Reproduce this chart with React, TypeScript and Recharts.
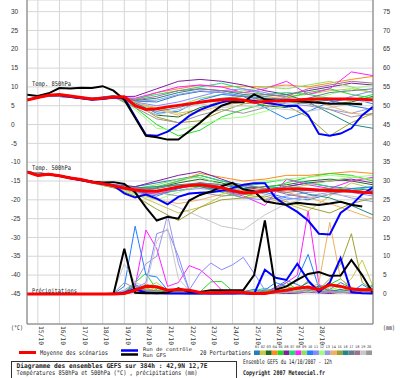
import React from "react"
import { LineChart, Line, XAxis, YAxis, CartesianGrid } from "recharts"

// time steps (hours after 14/10/2007 12h)
const hours12 = [0, 12, 24, 36, 48, 60, 72, 84, 96, 108, 120, 132, 144, 156, 168, 180, 192, 204, 216, 228, 240, 252, 264, 276, 288, 300, 312, 324, 336, 348, 360, 372, 384]
const hours24 = [0, 24, 48, 72, 96, 120, 144, 168, 192, 216, 240, 264, 288, 312, 336, 360, 384]
const dayTicks = [12, 36, 60, 84, 108, 132, 156, 180, 204, 228, 252, 276, 300, 324]
const dayLabels = ["15/10", "16/10", "17/10", "18/10", "19/10", "20/10", "21/10", "22/10", "23/10", "24/10", "25/10", "26/10", "27/10", "28/10"]
const tempTicks = [30, 25, 20, 15, 10, 5, 0, -5, -10, -15, -20, -25, -30, -35, -40, -45]
const precTicks = [75, 70, 65, 60, 55, 50, 45, 40, 35, 30, 25, 20, 15, 10, 5, 0]

// 850 hPa (°C)
const mean850 = [6.5, 7.2, 7.8, 8.0, 7.6, 7.2, 6.8, 7.0, 7.3, 7.4, 5.0, 4.0, 4.2, 4.7, 5.1, 5.5, 5.9, 6.3, 6.6, 6.7, 6.5, 5.9, 6.1, 6.3, 6.4, 6.5, 6.7, 6.8, 6.8, 6.8, 6.8, 6.7, 6.5]
const ctrl850 = [6.5, 7.2, 7.8, 7.8, 7.4, 7.0, 6.6, 6.8, 7.2, 7.0, 2.1, -2.8, -3.0, -1.9, 0.0, 2.3, 3.9, 5.0, 5.9, 6.5, 6.5, 6.3, 5.8, 5.4, 4.9, 4.9, 2.5, -2.5, -3.0, -2.4, -1.0, 2.5, 4.7]
const gfs850 = [7.9, 7.6, 8.3, 9.7, 9.6, 9.8, 9.7, 10.2, 9.0, 6.6, 1.8, -3.0, -3.4, -4.0, -4.0, -1.8, 0.5, 3.0, 5.0, 6.0, 5.9, 8.0, 6.7, 6.4, 6.3, 6.2, 6.0, 5.8, 5.5, 5.5, 5.5, 5.4]
const perts850 = [
  [6.5, 7.9, 7.5, 6.9, 7.6, 6.2, 6.0, 7.8, 8.8, 8.5, 7.6, 7.0, 6.8, 5.8, 6.5, 5.0, 4.0],
  [6.5, 7.6, 7.3, 6.6, 7.2, 5.8, 4.5, 3.0, 4.0, 6.5, 7.5, 8.0, 7.5, 8.0, 9.0, 9.5, 8.5],
  [6.5, 7.7, 7.2, 6.7, 7.4, 5.0, 2.5, 2.0, 4.5, 6.0, 6.5, 5.0, 4.5, 6.5, 5.5, 6.0, 7.5],
  [6.5, 7.8, 7.5, 6.8, 7.5, 6.5, 8.5, 9.5, 10.5, 10.0, 10.2, 10.0, 10.5, 10.0, 11.0, 12.0, 12.8],
  [6.5, 7.8, 7.6, 7.0, 7.6, 4.5, 0.0, -3.0, -1.5, 2.0, 4.0, 5.5, 7.0, 8.5, 9.5, 8.0, 7.0],
  [6.5, 7.9, 7.4, 6.8, 7.4, 7.5, 9.5, 11.5, 12.0, 11.5, 10.5, 9.0, 8.0, 9.0, 10.0, 11.0, 10.5],
  [6.5, 7.7, 7.3, 6.7, 7.2, 6.8, 8.0, 9.0, 10.0, 11.0, 9.5, 8.0, 8.5, 8.0, 7.0, 6.5, 8.0],
  [6.5, 7.8, 7.4, 6.8, 7.3, 7.0, 8.5, 10.0, 10.5, 10.0, 8.5, 9.5, 11.5, 8.0, 9.5, 14.0, 13.0],
  [6.5, 7.8, 7.5, 6.9, 7.5, 5.5, 4.0, 5.0, 7.0, 8.0, 9.0, 10.0, 9.5, 10.5, 11.5, 10.0, 8.5],
  [6.5, 7.9, 7.6, 7.0, 7.7, 5.8, 3.0, 3.5, 6.5, 8.0, 7.5, 4.5, 1.5, 3.5, 6.0, 7.0, 5.5],
  [6.5, 7.7, 7.3, 6.6, 7.1, 6.0, 5.0, 6.0, 7.5, 9.0, 9.5, 8.5, 7.0, 6.0, 5.5, 7.5, 9.0],
  [6.5, 7.8, 7.5, 6.9, 7.4, 4.0, -1.0, -1.5, 0.0, 1.5, 2.0, 3.5, 5.0, 6.5, 8.0, 9.5, 10.5],
  [6.5, 7.7, 7.3, 6.8, 7.2, 6.2, 6.5, 8.0, 9.0, 8.5, 7.5, 6.5, 5.5, 5.0, 4.0, 3.0, 4.5],
  [6.5, 7.8, 7.4, 6.8, 7.3, 6.0, 4.0, 2.5, 3.5, 5.0, 6.0, 7.0, 7.5, 6.5, 5.0, 3.0, 2.5],
  [6.5, 7.7, 7.4, 6.8, 7.3, 5.5, 2.0, 0.5, 1.0, 3.5, 5.5, 6.0, 5.0, 2.0, -3.0, 0.5, 3.0],
  [6.5, 7.8, 7.5, 6.9, 7.5, 6.4, 7.0, 8.5, 9.5, 9.0, 8.0, 7.5, 8.0, 6.0, 3.0, 0.0, -1.0],
  [6.5, 7.8, 7.4, 6.8, 7.3, 5.0, 3.5, 4.5, 6.0, 7.0, 7.5, 6.5, 6.0, 7.0, 8.5, 9.0, 9.5],
  [6.5, 7.7, 7.2, 6.6, 7.1, 6.5, 7.5, 9.0, 9.5, 9.0, 8.5, 8.0, 7.5, 9.5, 10.5, 11.5, 11.0],
  [6.5, 7.8, 7.4, 6.8, 7.2, 5.0, 2.5, 4.0, 5.5, 4.5, 5.0, 4.5, 4.0, 3.5, 4.5, 5.5, 6.5],
  [6.5, 7.8, 7.4, 6.8, 7.4, 4.5, 1.5, 0.5, 2.5, 4.0, 3.0, 4.5, 6.0, 5.5, 4.0, 2.0, 3.0],
]

// 500 hPa (°C)
const mean500 = [-12.6, -13.5, -13.2, -13.6, -14.2, -14.6, -15.3, -15.7, -16.3, -16.9, -17.4, -17.7, -17.7, -17.2, -16.6, -16.2, -16.0, -16.4, -16.8, -17.6, -18.1, -18.1, -17.6, -17.3, -17.1, -17.1, -17.2, -17.4, -17.5, -17.6, -17.7, -18.0, -18.1]
const ctrl500 = [-12.6, -13.4, -13.2, -13.6, -14.3, -14.8, -15.3, -15.8, -16.2, -18.3, -19.4, -18.6, -19.7, -21.2, -19.2, -18.3, -18.1, -18.0, -17.6, -16.9, -16.0, -15.6, -15.6, -19.5, -21.5, -23.2, -25.5, -29.0, -29.2, -23.5, -21.4, -18.5, -16.7]
const gfs500 = [-12.6, -13.5, -13.2, -13.6, -14.2, -14.7, -15.2, -15.4, -15.3, -15.8, -18.0, -22.0, -25.5, -24.5, -25.0, -20.2, -18.7, -17.8, -16.4, -15.5, -17.2, -17.8, -20.4, -20.9, -21.3, -20.8, -21.1, -21.4, -21.0, -20.5, -21.3, -21.8]
const perts500 = [
  [-12.6, -13.2, -14.0, -15.0, -16.0, -16.5, -15.5, -14.5, -13.5, -15.0, -16.0, -17.0, -16.5, -15.5, -16.5, -17.0, -17.5],
  [-12.6, -13.1, -14.2, -15.4, -16.5, -18.5, -21.0, -23.5, -22.0, -19.0, -18.5, -19.5, -21.0, -23.0, -19.0, -15.5, -17.0],
  [-12.6, -13.3, -14.3, -15.2, -16.4, -17.5, -16.8, -15.5, -14.5, -15.5, -17.0, -16.5, -16.0, -15.0, -14.5, -15.0, -16.0],
  [-12.6, -13.2, -14.1, -15.1, -16.2, -17.0, -17.0, -15.0, -13.0, -14.0, -15.0, -14.5, -13.5, -13.5, -13.0, -12.5, -13.0],
  [-12.6, -13.2, -14.3, -15.5, -16.8, -18.0, -18.5, -17.5, -16.5, -18.0, -19.5, -17.0, -15.5, -14.0, -13.0, -13.5, -15.0],
  [-12.6, -13.1, -14.0, -15.0, -16.0, -16.5, -15.0, -13.5, -12.5, -14.5, -16.5, -17.5, -16.5, -15.5, -15.0, -14.5, -15.5],
  [-12.6, -13.2, -14.2, -15.3, -16.2, -17.2, -16.5, -15.0, -13.5, -15.0, -16.5, -15.5, -14.5, -15.5, -16.5, -17.5, -16.5],
  [-12.6, -13.3, -14.2, -15.4, -16.6, -17.8, -18.5, -17.0, -16.0, -17.5, -19.0, -21.5, -14.5, -16.0, -17.0, -15.0, -14.0],
  [-12.6, -13.2, -14.1, -15.2, -16.3, -17.0, -16.0, -14.5, -14.0, -16.0, -17.5, -18.0, -17.0, -16.0, -15.0, -14.0, -14.5],
  [-12.6, -13.2, -14.3, -15.4, -16.5, -18.0, -19.0, -17.0, -15.5, -16.0, -17.0, -18.0, -19.5, -20.0, -18.5, -17.0, -16.5],
  [-12.6, -13.1, -14.1, -15.2, -16.4, -17.5, -18.0, -16.5, -16.0, -17.5, -19.5, -20.0, -19.0, -18.0, -17.5, -18.0, -19.0],
  [-12.6, -13.2, -14.2, -15.3, -16.5, -18.5, -20.0, -18.0, -16.0, -16.0, -16.0, -15.0, -14.5, -14.0, -13.5, -14.0, -13.5],
  [-12.6, -13.3, -14.2, -15.4, -16.3, -17.2, -17.8, -17.5, -17.0, -17.5, -17.0, -18.5, -20.0, -19.0, -18.0, -19.5, -20.5],
  [-12.6, -13.2, -14.2, -15.3, -16.4, -18.0, -20.0, -21.0, -20.0, -18.5, -17.5, -17.0, -18.0, -19.5, -21.0, -23.0, -25.0],
  [-12.6, -13.2, -14.3, -15.5, -16.8, -19.0, -22.5, -25.5, -22.0, -20.0, -19.5, -19.0, -20.5, -22.0, -23.5, -21.0, -19.5],
  [-12.6, -13.1, -14.0, -15.1, -16.1, -16.8, -16.5, -16.0, -16.5, -17.5, -18.5, -18.0, -17.0, -18.5, -19.5, -21.5, -24.0],
  [-12.6, -13.2, -14.2, -15.3, -16.3, -17.2, -17.0, -16.0, -15.5, -16.5, -18.0, -17.5, -18.0, -17.5, -17.0, -17.5, -18.0],
  [-12.6, -13.2, -14.1, -15.1, -16.0, -16.8, -17.5, -16.5, -15.5, -16.0, -16.0, -17.0, -18.5, -19.5, -18.5, -17.5, -18.5],
  [-12.6, -13.3, -14.4, -15.5, -16.6, -18.0, -19.5, -22.0, -24.5, -27.0, -28.0, -24.0, -21.0, -19.5, -18.5, -19.0, -20.0],
  [-12.6, -13.2, -14.2, -15.3, -16.3, -17.2, -18.0, -19.0, -18.0, -19.0, -18.5, -17.5, -16.5, -17.0, -18.0, -17.5, -18.0],
]

// precipitation (mm)
const meanPrec = [0, 0, 0, 0, 0, 0, 0, 0, 0, 0.1, 1.0, 2.0, 1.9, 1.0, 1.2, 1.0, 0.4, 0.3, 0.4, 0.5, 0.4, 0.1, 0.1, 0.6, 1.0, 1.5, 1.8, 1.1, 2.4, 2.0, 1.3, 1.1, 1.1]
const ctrlPrec = [0, 0, 0, 0, 0, 0, 0, 0, 0, 0.3, 1.3, 0.3, 0.2, 0.1, 0.1, 0.1, 0.1, 0.1, 0.1, 0.1, 0.1, 0.0, 6.4, 4.3, 3.7, 8.0, 3.6, 0.5, 3.0, 9.5, 0.5, 0.2, 0.1]
const gfsPrec = [0, 0, 0, 0, 0, 0, 0, 0, 0, 12.0, 0.3, 0.2, 0.2, 0.4, 1.5, 0.5, 0.5, 1.0, 1.0, 1.0, 1.0, 5.0, 19.5, 1.1, 2.0, 3.7, 5.3, 5.8, 4.8, 4.9, 9.0, 5.0, 0.2]
const pertsPrec = [
  [0, 0, 0, 0, 0, 0, 0, 0, 0, 0.3, 2.5, 1.0, 0.5, 0.3, 0.6, 0.2, 0.1, 0.3, 0.4, 0.2, 0.6, 1.2, 0.4, 1.8, 3.5, 2.5, 1.0, 2.0, 1.2, 3.0, 1.6, 0.8, 2.0],
  [0, 0, 0, 0, 0, 0, 0, 0, 0, 0.2, 1.0, 2.2, 1.0, 0.5, 0.4, 0.3, 0.2, 0.1, 0.1, 0.3, 0.5, 0.8, 0.3, 1.0, 2.0, 1.2, 3.2, 1.0, 2.5, 1.5, 4.0, 9.0, 2.0],
  [0, 0, 0, 0, 0, 0, 0, 0, 0, 0.1, 0.8, 1.5, 0.6, 0.2, 0.3, 0.1, 0.0, 0.2, 0.5, 0.3, 0.2, 0.4, 0.8, 0.5, 1.5, 0.6, 0.4, 2.2, 0.8, 1.0, 0.5, 0.3, 0.6],
  [0, 0, 0, 0, 0, 0, 0, 0, 0, 0.4, 1.5, 0.8, 0.3, 0.1, 0.2, 0.4, 0.2, 0.1, 0.0, 0.2, 0.3, 0.1, 0.2, 0.6, 0.3, 0.8, 0.4, 0.3, 0.9, 0.5, 1.8, 0.6, 0.4],
  [0, 0, 0, 0, 0, 0, 0, 0, 0, 0.5, 3.0, 5.5, 1.0, 0.4, 0.6, 0.3, 0.5, 3.2, 3.3, 0.8, 0.5, 0.3, 0.6, 1.0, 3.0, 1.2, 0.6, 1.8, 2.5, 4.0, 1.5, 0.8, 2.5],
  [0, 0, 0, 0, 0, 0, 0, 0, 0, 0.0, 0.5, 0.6, 0.2, 0.1, 0.1, 0.0, 0.1, 0.0, 0.1, 0.0, 0.2, 0.1, 0.0, 0.3, 0.1, 0.2, 0.5, 0.3, 0.1, 0.4, 0.2, 0.1, 0.3],
  [0, 0, 0, 0, 0, 0, 0, 0, 0, 0.3, 1.2, 2.5, 1.5, 0.6, 0.3, 0.2, 0.1, 0.3, 0.2, 0.4, 0.6, 0.8, 1.5, 0.7, 0.4, 1.0, 2.0, 1.0, 0.5, 0.8, 1.2, 0.6, 1.0],
  [0, 0, 0, 0, 0, 0, 0, 0, 0, 0.2, 2.0, 17.0, 12.0, 2.0, 3.0, 7.5, 6.4, 4.0, 1.0, 0.5, 0.3, 0.6, 0.4, 1.5, 3.0, 5.0, 22.0, 2.5, 1.0, 0.6, 0.8, 0.5, 0.4],
  [0, 0, 0, 0, 0, 0, 0, 0, 0, 0.1, 1.0, 1.8, 3.0, 0.8, 0.4, 0.3, 0.2, 0.3, 0.6, 0.3, 0.5, 0.4, 0.9, 0.5, 1.2, 0.8, 0.5, 1.5, 1.0, 2.0, 0.8, 1.5, 0.6],
  [0, 0, 0, 0, 0, 0, 0, 0, 0, 2.0, 18.0, 5.0, 4.5, 1.0, 0.5, 0.3, 0.2, 0.1, 0.3, 0.2, 0.4, 0.5, 1.0, 3.0, 2.0, 4.0, 10.5, 1.5, 0.6, 1.0, 0.5, 2.5, 0.8],
  [0, 0, 0, 0, 0, 0, 0, 0, 0, 0.5, 1.5, 3.0, 16.0, 17.0, 10.0, 1.0, 5.5, 8.2, 6.4, 7.7, 9.7, 5.5, 1.0, 0.5, 0.8, 0.4, 0.6, 0.3, 0.5, 0.8, 0.4, 0.3, 0.5],
  [0, 0, 0, 0, 0, 0, 0, 0, 0, 0.2, 0.8, 1.2, 0.6, 0.3, 0.4, 0.2, 0.3, 0.5, 0.2, 0.1, 0.3, 0.6, 0.4, 0.8, 1.5, 0.6, 1.0, 0.4, 1.8, 0.7, 1.2, 0.5, 1.0],
  [0, 0, 0, 0, 0, 0, 0, 0, 0, 1.0, 3.0, 8.0, 10.0, 21.0, 8.0, 1.0, 0.5, 0.4, 0.6, 0.3, 0.4, 0.5, 1.2, 0.6, 0.8, 0.5, 1.5, 0.8, 0.4, 0.6, 1.0, 0.5, 0.3],
  [0, 0, 0, 0, 0, 0, 0, 0, 0, 0.2, 0.9, 1.5, 0.8, 0.4, 0.3, 0.5, 0.4, 0.2, 0.1, 0.3, 0.2, 0.4, 0.6, 0.3, 1.0, 2.0, 1.0, 3.0, 19.0, 4.0, 1.5, 0.8, 0.5],
  [0, 0, 0, 0, 0, 0, 0, 0, 0, 0.3, 1.0, 2.5, 1.8, 0.6, 0.4, 0.2, 0.3, 0.6, 0.4, 0.2, 0.5, 0.3, 0.8, 1.0, 2.0, 1.0, 3.5, 1.2, 4.0, 8.0, 16.0, 3.0, 1.0],
  [0, 0, 0, 0, 0, 0, 0, 0, 0, 0.2, 1.0, 0.6, 0.4, 0.2, 0.3, 0.1, 0.2, 0.1, 0.2, 0.4, 0.2, 0.3, 0.5, 1.0, 0.6, 1.5, 3.0, 0.8, 0.5, 1.2, 0.6, 1.0, 0.8],
  [0, 0, 0, 0, 0, 0, 0, 0, 0, 0.6, 2.0, 1.0, 0.8, 0.5, 0.3, 0.6, 0.3, 0.2, 0.4, 0.2, 0.3, 0.2, 0.6, 0.4, 1.0, 0.5, 0.8, 2.0, 0.7, 0.4, 1.0, 0.5, 0.6],
  [0, 0, 0, 0, 0, 0, 0, 0, 0, 0.1, 0.6, 0.9, 0.4, 0.2, 0.1, 0.3, 0.2, 0.1, 0.0, 0.2, 0.1, 0.3, 0.2, 0.5, 0.3, 0.6, 0.4, 0.9, 0.5, 0.3, 0.7, 0.4, 0.2],
  [0, 0, 0, 0, 0, 0, 0, 0, 0.5, 8.0, 3.0, 2.0, 14.0, 17.5, 4.0, 1.0, 0.5, 0.3, 0.2, 0.4, 0.3, 0.2, 0.4, 0.6, 0.3, 0.8, 0.5, 1.0, 0.6, 0.4, 0.8, 0.3, 0.5],
  [0, 0, 0, 0, 0, 0, 0, 0, 0.2, 3.0, 1.5, 1.0, 0.6, 0.4, 0.3, 0.2, 0.1, 0.2, 0.3, 0.1, 0.2, 0.4, 0.3, 0.2, 0.5, 0.3, 1.2, 0.4, 0.6, 0.3, 0.5, 0.2, 0.4],
]

const pertColors = ["#1f7fbf", "#c8c84a", "#1e6e1e", "#ff8c1a", "#22dd22", "#8020a0", "#20e070", "#ff20ff", "#90e060", "#2080ff", "#8888ff", "#a0ff80", "#9898e8", "#f0b060", "#a0a030", "#208888", "#608090", "#a07090", "#c8c8c8", "#989898"]
const pertNames = ["01", "02", "03", "04", "05", "06", "07", "08", "09", "10", "11", "12", "13", "14", "15", "16", "17", "18", "19", "20"]

const toPts = (hrs: number[], vals: number[]) => vals.map((v, i) => ({ h: hrs[i], v }))

const MONO = "DejaVu Sans Mono, monospace"
const SANS = "Liberation Sans, Arial, sans-serif"

const LeftTick = ({ y, payload }: any) => (
  <text x={11} y={y + 2.2} fontSize={6.5} fontFamily={SANS} fill="#333">{payload.value}</text>
)
const RightTick = ({ y, payload }: any) => (
  <text x={383} y={y + 2.2} fontSize={6.5} fontFamily={SANS} fill="#333">{payload.value}</text>
)
const DateTick = ({ x, payload }: any) => (
  <text transform={`translate(${x + 1.5},326) rotate(90)`} fontSize={6.3} fontFamily={MONO} fill="#333">
    {dayLabels[dayTicks.indexOf(payload.value)]}
  </text>
)

function Overlay() {
  const t = (x: number, y: number, s: string, w: number, bold = false, size = 6.5) => (
    <text x={x} y={y} fontSize={size} fontFamily={MONO} fontWeight={bold ? "bold" : "normal"} fill="#222" textLength={w} lengthAdjust="spacingAndGlyphs">{s}</text>
  )
  return (
    <svg width={400} height={378} style={{ position: "absolute", left: 0, top: 0, pointerEvents: "none" }}>
      {t(32, 85.5, "Temp. 850hPa", 39)}
      {t(32, 169.5, "Temp. 500hPa", 39)}
      {t(32, 292.5, "Précipitations", 45)}
      {t(11, 329.5, "(°C)", 12)}
      {t(383, 330, "(mm)", 12)}

      <line x1={19} x2={36} y1={352.5} y2={352.5} stroke="#ff0000" strokeWidth={3} />
      {t(40, 355, "Moyenne des scénarios", 68)}
      <line x1={121} x2={138} y1={350.5} y2={350.5} stroke="#0000ff" strokeWidth={2.5} />
      <line x1={121} x2={138} y1={354.5} y2={354.5} stroke="#000000" strokeWidth={2.5} />
      {t(143, 351, "Run de contrôle", 49, false, 5)}
      {t(143, 357, "Run GFS", 23, false, 5)}
      {t(200, 354.5, "20 Perturbations", 51)}
      {pertColors.map((c, i) => (
        <g key={i}>
          <rect x={254 + i * 5.9} y={350.5} width={5.9} height={4.5} fill={c} />
          <text x={254 + i * 5.9 + 2.95} y={347.5} fontSize={3.6} textAnchor="middle" fontFamily={MONO} fill="#333">{pertNames[i]}</text>
        </g>
      ))}

      <rect x={11.5} y={361.5} width={225} height={20} fill="none" stroke="#333" strokeWidth={1} />
      {t(16.5, 368, "Diagramme des ensembles GEFS sur 384h : 42,9N 12,7E", 191, true)}
      {t(16.5, 375, "Températures 850hPa et 500hPa (°C) , précipitations (mm)", 181)}
      {t(243, 364, "Ensemble GEFS du 14/10/2007 - 12h", 89)}
      {t(243, 375, "Copyright 2007 Meteociel.fr", 82, true)}
    </svg>
  )
}

export default function App() {
  return (
    <div style={{ position: "absolute", left: 0, top: 0, width: 400, height: 378, background: "#fff" }}>
      <LineChart width={400} height={348} margin={{ top: 0, right: 0, bottom: 0, left: 0 }}>
        <CartesianGrid yAxisId="t" stroke="#d6d6d6" />
        <XAxis dataKey="h" type="number" domain={[0, 384]} ticks={dayTicks} interval={0} height={24} tick={<DateTick />} tickLine={false} axisLine={{ stroke: "#777" }} allowDataOverflow />
        <YAxis yAxisId="t" orientation="left" width={27} type="number" domain={[-53, 33.1]} ticks={tempTicks} interval={0} tick={<LeftTick />} tickLine={false} axisLine={{ stroke: "#777" }} allowDataOverflow />
        <YAxis yAxisId="p" orientation="right" width={27} type="number" domain={[-8, 78.1]} ticks={precTicks} interval={0} tick={<RightTick />} tickLine={false} axisLine={{ stroke: "#777" }} allowDataOverflow />

        {perts850.map((vals, i) => (
          <Line key={"a" + i} yAxisId="t" data={toPts(hours24, vals)} dataKey="v" stroke={pertColors[i]} strokeWidth={1} dot={false} isAnimationActive={false} />
        ))}
        {perts500.map((vals, i) => (
          <Line key={"b" + i} yAxisId="t" data={toPts(hours24, vals)} dataKey="v" stroke={pertColors[i]} strokeWidth={1} dot={false} isAnimationActive={false} />
        ))}
        {pertsPrec.map((vals, i) => (
          <Line key={"c" + i} yAxisId="p" data={toPts(hours12, vals)} dataKey="v" stroke={pertColors[i]} strokeWidth={1} dot={false} isAnimationActive={false} />
        ))}

        <Line yAxisId="t" data={toPts(hours12, ctrl850)} dataKey="v" stroke="#0000ff" strokeWidth={2} dot={false} isAnimationActive={false} />
        <Line yAxisId="t" data={toPts(hours12, ctrl500)} dataKey="v" stroke="#0000ff" strokeWidth={2} dot={false} isAnimationActive={false} />
        <Line yAxisId="p" data={toPts(hours12, ctrlPrec)} dataKey="v" stroke="#0000ff" strokeWidth={2} dot={false} isAnimationActive={false} />
        <Line yAxisId="t" data={toPts(hours12, gfs850)} dataKey="v" stroke="#000000" strokeWidth={2} dot={false} isAnimationActive={false} />
        <Line yAxisId="t" data={toPts(hours12, gfs500)} dataKey="v" stroke="#000000" strokeWidth={2} dot={false} isAnimationActive={false} />
        <Line yAxisId="p" data={toPts(hours12, gfsPrec)} dataKey="v" stroke="#000000" strokeWidth={2} dot={false} isAnimationActive={false} />
        <Line yAxisId="t" data={toPts(hours12, mean850)} dataKey="v" stroke="#ff0000" strokeWidth={3} dot={false} isAnimationActive={false} />
        <Line yAxisId="t" data={toPts(hours12, mean500)} dataKey="v" stroke="#ff0000" strokeWidth={3} dot={false} isAnimationActive={false} />
        <Line yAxisId="p" data={toPts(hours12, meanPrec)} dataKey="v" stroke="#ff0000" strokeWidth={3} dot={false} isAnimationActive={false} />
      </LineChart>
      <Overlay />
    </div>
  )
}
